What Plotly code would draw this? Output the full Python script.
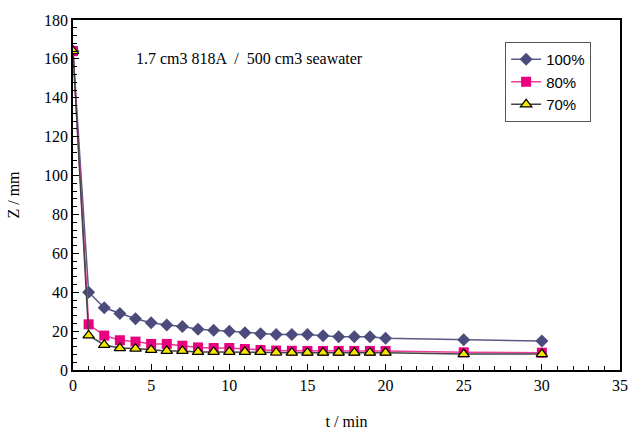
import plotly.graph_objects as go

t = [0, 1, 2, 3, 4, 5, 6, 7, 8, 9, 10, 11, 12, 13, 14, 15, 16, 17, 18, 19, 20, 25, 30]
z100 = [164, 40, 32, 29.1, 26.4, 24.3, 23.1, 22.4, 20.9, 20.4, 19.9, 19.2, 18.7, 18.3, 18.3, 18.3, 17.6, 17.1, 17.1, 17.1, 16.3, 15.6, 14.9]
z80 = [164, 23.5, 17.7, 15.3, 14.6, 13.4, 13.4, 12.5, 11.6, 11.3, 11.3, 10.8, 10.3, 10.0, 9.9, 9.8, 9.8, 9.8, 9.8, 9.8, 9.8, 9.1, 8.9]
z70 = [164, 17.8, 12.9, 11.3, 11.0, 10.3, 9.8, 9.8, 9.3, 9.3, 9.3, 9.3, 9.3, 9.0, 8.9, 8.9, 8.9, 8.9, 8.9, 8.9, 8.9, 8.2, 8.2]

fig = go.Figure()
fig.add_trace(go.Scatter(x=t, y=z100, name="100%", mode="lines+markers",
                         line=dict(color="#5a5a88", width=1.5),
                         marker=dict(symbol="diamond", size=10, color="#4b4b7c")))
fig.add_trace(go.Scatter(x=t, y=z80, name="80%", mode="lines+markers",
                         line=dict(color="#ec3c9a", width=1.5),
                         marker=dict(symbol="square", size=10, color="#e8007f")))
fig.add_trace(go.Scatter(x=t, y=z70, name="70%", mode="lines+markers",
                         line=dict(color="#444444", width=1.5),
                         marker=dict(symbol="triangle-up", size=10, color="#f5e600",
                                     line=dict(color="#000000", width=1.2))))

fig.add_annotation(text="1.7 cm3 818A  /  500 cm3 seawater", x=0.111, y=0.92,
                   xref="paper", yref="paper", xanchor="left", yanchor="top",
                   showarrow=False, font=dict(family="Liberation Serif", size=16, color="#000"))

axis_common = dict(showline=True, linecolor="#000", linewidth=1.5, mirror=True,
                   ticks="inside", ticklen=6, tickcolor="#000", showgrid=False,
                   zeroline=False, tickfont=dict(family="Liberation Serif", size=16, color="#000"))

fig.update_xaxes(range=[0, 35], dtick=5, tick0=0,
                 title=dict(text="t / min", font=dict(family="Liberation Serif", size=16, color="#000"), standoff=24),
                 minor=dict(dtick=1, ticks="inside", ticklen=4, tickcolor="#000"),
                 **axis_common)
fig.update_yaxes(range=[0, 180], dtick=20, tick0=0,
                 title=dict(text="Z / mm", font=dict(family="Liberation Serif", size=16, color="#000"), standoff=20),
                 minor=dict(dtick=4, ticks="inside", ticklen=4, tickcolor="#000"),
                 **axis_common)

fig.update_layout(width=629, height=430, margin=dict(l=73, r=9, t=20, b=60, autoexpand=False),
                  plot_bgcolor="white", paper_bgcolor="white", showlegend=True,
                  legend=dict(x=0.79, y=0.937, xanchor="left", yanchor="top",
                              bgcolor="white", bordercolor="#555", borderwidth=1,
                              font=dict(family="Liberation Sans", size=15, color="#000"),
                              itemwidth=30, tracegroupgap=4))

fig.write_html("out.html", config={"displayModeBar": False},
               post_script="document.body.style.margin='0';document.body.style.overflow='hidden';")
